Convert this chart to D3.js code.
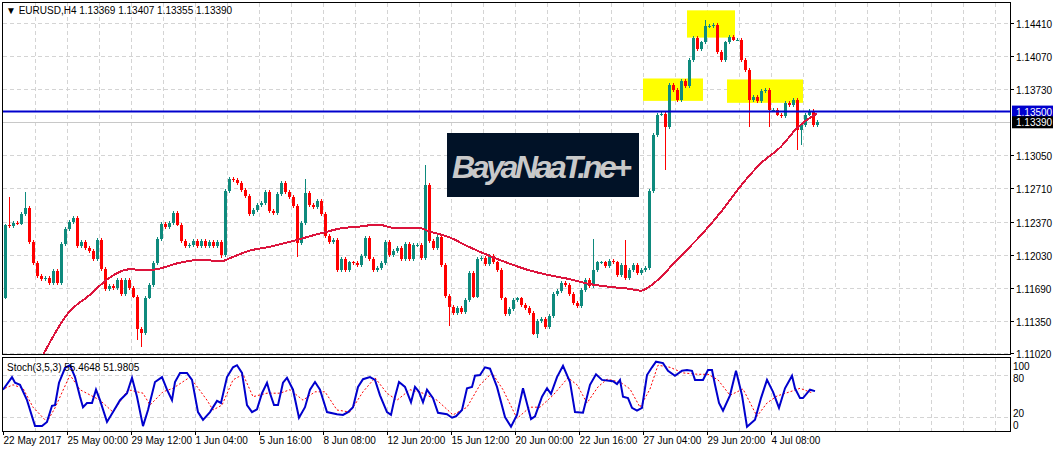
<!DOCTYPE html>
<html>
<head>
<meta charset="utf-8">
<script src="https://cdn.jsdelivr.net/npm/d3@7"></script>
<style>
  body { margin: 0; background: #fff; }
  text { font-family: "Liberation Sans", Arial, sans-serif; }
</style>
</head>
<body>
<svg id="chart" width="1053" height="452"></svg>
<script>
// EURUSD H4 closes, one per bar (open = previous close)
const firstOpen = 1.1159;
const closes = [
  1.1233,1.1232,1.1236,1.1235,1.1245,1.1251,1.1216,1.1194,1.1181,1.1178,
  1.1179,1.1174,1.1186,1.1174,1.1214,1.1229,1.1237,1.1241,1.1212,1.1216,
  1.1210,1.1207,1.1199,1.1218,1.1188,1.1168,1.1171,1.1169,1.1177,1.1163,
  1.1177,1.1169,1.1160,1.1127,1.1123,1.1159,1.1172,1.1194,1.1219,1.1235,
  1.1231,1.1236,1.1246,1.1234,1.1217,1.1212,1.1213,1.1217,1.1212,1.1217,
  1.1212,1.1216,1.1212,1.1216,1.1203,1.1268,1.1281,1.1280,1.1277,1.1269,
  1.1263,1.1245,1.1249,1.1254,1.1256,1.1267,1.1248,1.1246,1.1265,1.1277,
  1.1267,1.1262,1.1253,1.1215,1.1236,1.1266,1.1254,1.1252,1.1258,1.1245,
  1.1222,1.1216,1.1218,1.1187,1.1199,1.1187,1.1195,1.1194,1.1192,1.1202,
  1.1220,1.1199,1.1187,1.1189,1.1194,1.1216,1.1203,1.1207,1.1210,1.1199,
  1.1214,1.1199,1.1213,1.1213,1.1200,1.1275,1.1217,1.1210,1.1221,1.1192,
  1.1161,1.1149,1.1143,1.1148,1.1144,1.1156,1.1184,1.1160,1.1199,1.1200,
  1.1193,1.1202,1.1195,1.1187,1.1158,1.1142,1.1147,1.1156,1.1158,1.1151,
  1.1148,1.1143,1.1122,1.1135,1.1137,1.1129,1.1140,1.1163,1.1166,1.1174,
  1.1172,1.1163,1.1153,1.1150,1.1167,1.1177,1.1171,1.1187,1.1195,1.1195,
  1.1191,1.1197,1.1195,1.1182,1.1192,1.1179,1.1187,1.1192,1.1184,1.1187,
  1.1189,1.1268,1.1326,1.1347,1.1348,1.1334,1.1377,1.1372,1.1362,1.1381,
  1.1376,1.1403,1.1426,1.1414,1.1421,1.1438,1.1438,1.1439,1.1411,1.1403,
  1.1421,1.1427,1.1424,1.1424,1.1403,1.1393,1.1362,1.1365,1.1361,1.1371,
  1.1372,1.1352,1.1352,1.1347,1.1345,1.1359,1.1357,1.1362,1.1331,1.1336,
  1.1347,1.1351,1.1336,1.1339
];
// notable wicks: [bar, high, low] (null = short wick)
const wicks = [
  [1,1.1262,null],[5,1.1267,null],[33,null,1.1115],[34,null,1.1108],
  [54,null,1.1200],[73,null,1.1201],[75,1.1281,null],[105,1.1295,null],
  [111,null,1.1130],[133,null,1.1117],[147,1.1219,null],[155,1.1218,null],
  [165,null,1.1290],[175,1.1444,null],[186,null,1.1334],[191,null,1.1334],
  [198,null,1.1311],[199,null,1.1316]
];
// moving average, sampled at bars
const maBar = [9,16,21,26,31,36,44,49,54,56,61,66,71,79,84,89,93,98,104,106,111,116,121,126,131,136,141,146,151,156,159,161,169,174,179,184,189,194,198,201,203];
const maVal = [1.1096,1.1144,1.1161,1.1179,1.1188,1.1187,1.1195,1.1198,1.1196,1.1199,1.1207,1.1211,1.1216,1.1225,1.1230,1.1232,1.1234,1.1230,1.1230,1.1227,1.1221,1.1211,1.1202,1.1194,1.1187,1.1182,1.1178,1.1173,1.1170,1.1168,1.1166,1.1170,1.1202,1.1223,1.1247,1.1274,1.1297,1.1314,1.1333,1.1343,1.1348];
// stochastic %K and %D
const kBar = [-0.5,1.75,2.5,3.75,5.5,7.5,9.25,10.5,11.75,12.5,13.5,15,16.25,17.5,18.75,19.5,20.5,21.75,22.75,23.75,25.5,27,28.75,30.5,31.75,33,34.5,35.75,37.5,39.25,40.5,41.75,42.5,43.75,45.5,46.75,48.25,49.5,51.25,53,54,55.5,57,58,59.25,60.5,61.75,63,64.25,65.5,66.25,67.25,68.25,69.5,70.5,72,73.5,75,76.25,77.5,78.75,80.5,83,84.5,85.75,87,88.25,89.5,91.25,92.5,93.75,95.5,96.5,97.5,98.5,100,101.5,102.5,103.5,104.5,105.5,107,108.25,110.5,111.75,112.75,114.25,115.5,116.75,117.5,118.75,120,121.25,123,125,126.5,128,129.5,131.5,132.5,134.25,135.5,136.5,138,139.5,141.25,142.5,144.5,146.25,147.75,149.25,152,153,153.75,154.5,155.75,156.75,158,159.25,160.5,161.75,162.75,164.5,165.75,167.5,169.25,170.5,171.75,172.5,174.5,175.75,176.75,177.5,178.5,179.5,181.25,182.75,184.25,185.5,187.5,189,190.5,192,193.5,195,196.75,197.5,198.75,199.5,201.25,202.5];
const kVal = [59,77,69,66,44,7,7,13,36,37,69,90,94,77,49,34,40,40,59,44,13,27,44,54,76,49,7,30,70,77,59,44,70,83,83,73,27,16,27,43,40,77,91,94,83,37,27,31,54,69,54,37,37,69,76,59,19,34,59,70,59,27,24,23,27,34,63,74,77,73,51,27,23,49,70,63,41,63,56,41,59,47,26,24,19,21,30,61,63,79,80,91,89,63,20,6,23,61,17,21,49,61,53,77,93,70,27,26,66,81,73,71,67,73,49,47,33,29,33,80,91,99,97,86,79,86,87,86,73,73,87,87,66,40,29,51,86,51,6,16,47,73,56,33,61,79,61,47,47,59,57];
const dBar = [0,2,4.5,7,10.5,12.5,16.25,18.75,23.75,27,30.75,34.5,36.25,39.5,42,46.25,50.5,52,54.25,57,59.5,62,65.5,68.75,71.25,74.5,77.5,80,83,86.25,89.5,92.5,95.5,98,101.25,104.5,108,112,115.5,118.75,121.75,124.5,128,131.25,133.75,137,140.75,143,145.5,148.25,150.5,153.75,156.25,158.75,161.25,163.25,166.25,169.5,173.25,175.75,178.25,181.25,184.5,188,190.5,193,196.25,198.75,202];
const dVal = [61,66,61,34,13,33,80,59,44,27,59,54,37,56,61,77,44,30,37,73,81,49,54,54,59,44,56,56,30,27,56,76,54,44,59,54,44,23,34,66,83,59,18,34,34,51,76,66,40,63,74,70,60,34,60,94,91,83,81,81,73,51,60,21,40,50,56,61,54];
// axes
const priceTicks = [1.14410,1.14070,1.13730,1.13050,1.12710,1.12370,1.12030,1.11690,1.11350,1.11020];
const stochTicks = [100, 80, 20, 0];
const timeBars = [-0.5,15.5,31.5,47.5,63.5,79.5,95.5,111.5,127.5,143.5,159.5,175.5,191.5];
const timeLabels = ["22 May 2017","25 May 00:00","29 May 12:00","1 Jun 04:00","5 Jun 16:00","8 Jun 08:00","12 Jun 20:00","15 Jun 12:00","20 Jun 00:00","22 Jun 16:00","27 Jun 04:00","29 Jun 20:00","4 Jul 08:00"];
const levelPrice = 1.13500, lastPrice = 1.13390;
// highlighted zones: [bar from, bar to, price top, price bottom]
const zones = [[159.5,174.5,1.1384,1.1361],[170.5,182.5,1.1454,1.1426],[180.5,199.5,1.1383,1.1359]];

const svg = d3.select('#chart');
const L = 3, R = 1010, T = 3, B = 354, sT = 358, sB = 431;
const x = d3.scaleLinear().domain([0, 1]).range([5, 9]);
const y = d3.scaleLinear().domain([1.11020, 1.14410]).range([353, 23]);
const ys = d3.scaleLinear().domain([0, 100]).range([431, 361]);
// stoch axis label baselines follow the MT4 layout, not the scale exactly
const ysLabel = d3.scaleLinear().domain([0, 100]).range([429, 370]);

svg.append('defs').append('clipPath').attr('id', 'mainClip')
  .append('rect').attr('x', L).attr('y', T).attr('width', R - L).attr('height', B - T);
svg.select('defs').append('clipPath').attr('id', 'stClip')
  .append('rect').attr('x', L).attr('y', sT).attr('width', R - L).attr('height', sB - sT);

const grid = svg.append('g').attr('stroke', '#d4d4d4').attr('stroke-dasharray', '4,3').attr('shape-rendering', 'crispEdges');
for (let k = 1; L + 32 * k < R; k++) {
  const gx = Math.round(x(8 * k - 0.5)) + 0.5;
  grid.append('line').attr('x1', gx).attr('x2', gx).attr('y1', T).attr('y2', B);
  grid.append('line').attr('x1', gx).attr('x2', gx).attr('y1', sT).attr('y2', sB);
}
priceTicks.forEach(p => {
  const gy = Math.round(y(p)) + 0.5;
  grid.append('line').attr('x1', L).attr('x2', R).attr('y1', gy).attr('y2', gy);
});
[20, 80].forEach(v => {
  const gy = Math.round(ys(v)) + 0.5;
  grid.append('line').attr('x1', L).attr('x2', R).attr('y1', gy).attr('y2', gy);
});

// zones
svg.append('g').selectAll('rect').data(zones).join('rect')
  .attr('x', d => x(d[0])).attr('width', d => x(d[1]) - x(d[0]))
  .attr('y', d => y(d[2])).attr('height', d => y(d[3]) - y(d[2]))
  .attr('fill', '#ffff00');

// logo
const logo = svg.append('g');
logo.append('rect').attr('x', 447).attr('y', 133).attr('width', 192).attr('height', 64).attr('fill', '#011227');
logo.append('text').attr('x', 452).attr('y', 178).attr('font-size', 32).attr('font-style', 'italic').attr('font-weight', 'bold')
  .attr('font-family', 'DejaVu Sans').attr('fill', '#c9c9c9').attr('textLength', 180).text('BayaNaaT.ne+');

// current price line
svg.append('line').attr('x1', L).attr('x2', R).attr('y1', Math.round(y(lastPrice)) + 0.5).attr('y2', Math.round(y(lastPrice)) + 0.5)
  .attr('stroke', '#c8c8c8');

// candles
const bars = closes.map((c, i) => {
  const o = i === 0 ? firstOpen : closes[i - 1];
  let h = Math.max(o, c) + 0.0002, l = Math.min(o, c) - 0.0002;
  const w = wicks.find(d => d[0] === i);
  if (w) { if (w[1] !== null) h = w[1]; if (w[2] !== null) l = w[2]; }
  return { i, o, c, h, l };
});
const cg = svg.append('g').attr('clip-path', 'url(#mainClip)').attr('shape-rendering', 'crispEdges');
const col = d => d.c >= d.o ? '#0e8a7d' : '#ff0000';
cg.selectAll('line.w').data(bars).join('line').attr('class', 'w')
  .attr('x1', d => Math.round(x(d.i)) + 0.5).attr('x2', d => Math.round(x(d.i)) + 0.5)
  .attr('y1', d => y(d.h)).attr('y2', d => y(d.l)).attr('stroke', col);
cg.selectAll('rect').data(bars).join('rect')
  .attr('x', d => Math.round(x(d.i)) - 1).attr('width', 3)
  .attr('y', d => y(Math.max(d.o, d.c))).attr('height', d => Math.max(1, Math.abs(y(d.o) - y(d.c))))
  .attr('fill', col);

// MA
cg.append('path').datum(maBar.map((b, i) => [b, maVal[i]]))
  .attr('d', d3.line().x(d => x(d[0])).y(d => y(d[1])).curve(d3.curveMonotoneX))
  .attr('fill', 'none').attr('stroke', '#dc143c').attr('stroke-width', 2);

// level line
svg.append('line').attr('x1', L).attr('x2', R).attr('y1', y(levelPrice)).attr('y2', y(levelPrice))
  .attr('stroke', '#0000cd').attr('stroke-width', 2);

// stochastic
const sg = svg.append('g').attr('clip-path', 'url(#stClip)');
sg.append('path').datum(dBar.map((b, i) => [b, dVal[i]]))
  .attr('d', d3.line().x(d => x(d[0])).y(d => ys(d[1])))
  .attr('fill', 'none').attr('stroke', '#ff0000').attr('stroke-dasharray', '2,2');
sg.append('path').datum(kBar.map((b, i) => [b, kVal[i]]))
  .attr('d', d3.line().x(d => x(d[0])).y(d => ys(d[1])))
  .attr('fill', 'none').attr('stroke', '#0000cd').attr('stroke-width', 2);

// frames
svg.append('rect').attr('x', L - 0.5).attr('y', T - 0.5).attr('width', R - L + 1).attr('height', B - T + 1)
  .attr('fill', 'none').attr('stroke', '#000');
svg.append('rect').attr('x', L - 0.5).attr('y', sT - 0.5).attr('width', R - L + 1).attr('height', sB - sT + 1)
  .attr('fill', 'none').attr('stroke', '#000');

// price axis
const pa = svg.append('g');
priceTicks.forEach(p => {
  const ty = Math.round(y(p)) + 0.5;
  pa.append('line').attr('x1', R).attr('x2', R + 4).attr('y1', ty).attr('y2', ty).attr('stroke', '#000');
  pa.append('text').attr('x', 1016).attr('y', ty + 4).attr('font-size', 10).attr('fill', '#000').text(p.toFixed(5));
});
[[levelPrice, '#0000cd'], [lastPrice, '#000']].forEach(([p, c]) => {
  const ty = y(p);
  pa.append('rect').attr('x', 1012).attr('y', ty - 6).attr('width', 41).attr('height', 12).attr('fill', c);
  pa.append('text').attr('x', 1016).attr('y', ty + 4).attr('font-size', 10).attr('fill', '#fff').text(p.toFixed(5));
});
stochTicks.forEach(v => {
  pa.append('text').attr('x', 1013).attr('y', ysLabel(v)).attr('font-size', 10).attr('fill', '#000').text(v);
});

// time axis
timeBars.forEach((b, i) => {
  const tx = Math.round(x(b)) + 0.5;
  svg.append('line').attr('x1', tx).attr('x2', tx).attr('y1', sB).attr('y2', sB + 4).attr('stroke', '#000');
  svg.append('text').attr('x', tx).attr('y', 444).attr('font-size', 10).attr('fill', '#000').text(timeLabels[i]);
});

// titles
svg.append('text').attr('x', 6).attr('y', 14).attr('font-size', 10).attr('fill', '#000')
  .text('\u25BC EURUSD,H4  1.13369 1.13407 1.13355 1.13390');
svg.append('text').attr('x', 7).attr('y', 371).attr('font-size', 10).attr('fill', '#000')
  .text('Stoch(3,5,3) 55.4648 51.9805');
</script>
</body>
</html>
